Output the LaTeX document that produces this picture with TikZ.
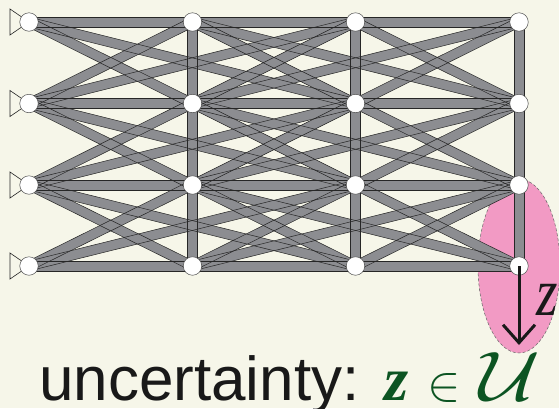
\RequirePackage{fix-cm}
\documentclass[tikz,border=0pt]{standalone}
\usepackage{fontspec}
\usepackage{graphicx}
\usepackage{xcolor}
\usepackage{tikz}
\usetikzlibrary{arrows.meta, positioning, calc, shapes.geometric}

\newfontfamily\captionfont{Liberation Sans}
\newfontfamily\timesfont{Liberation Serif}

\definecolor{bgcream}{RGB}{246,246,233}
\definecolor{bargray}{RGB}{140,141,145}
\definecolor{zonepink}{RGB}{242,154,196}
\definecolor{ugreen}{RGB}{12,84,34}

\pgfdeclarelayer{zonelayer}
\pgfdeclarelayer{barlayer}
\pgfsetlayers{zonelayer,barlayer,main}

% one bar: body first, edges in a second pass
\newcommand{\barbody}[2]{\draw[barbody] (#1.center) -- (#2.center);}
\newcommand{\baredge}[2]{\draw[baredge] ($(#1.center)!4.8pt!90:(#2.center)$) -- ($(#2.center)!4.8pt!-90:(#1.center)$)
    ($(#1.center)!4.8pt!-90:(#2.center)$) -- ($(#2.center)!4.8pt!90:(#1.center)$);}

% all bars of the ground structure
\newcommand{\groundstructure}[1]{%
  \foreach \col [evaluate=\col as \nxt using int(\col+1)] in {1,2,3} {
    \foreach \row in {1,...,4} {#1{n-\col-\row}{n-\nxt-\row}}
    \foreach \row [evaluate=\row as \low using int(\row+1)] in {1,2,3} {
      #1{n-\col-\row}{n-\nxt-\low}
      #1{n-\col-\low}{n-\nxt-\row}
    }
  }
  \foreach \col [evaluate=\col as \far using int(\col+2)] in {1,2} {
    \foreach \row [evaluate=\row as \low using int(\row+1)] in {1,2,3} {
      #1{n-\col-\row}{n-\far-\low}
      #1{n-\col-\low}{n-\far-\row}
    }
  }
  \foreach \col in {2,3,4} {
    \foreach \row [evaluate=\row as \low using int(\row+1)] in {1,2,3} {#1{n-\col-\row}{n-\col-\low}}
  }
}

\begin{document}
\begin{tikzpicture}[
    x=1pt, y=-1pt,
    joint/.style={circle, draw=black!70, fill=white, line width=0.5pt, inner sep=0pt, minimum size=18.5pt},
    barbody/.style={line width=9.6pt, bargray},
    baredge/.style={line width=0.5pt, black!85},
    support/.style={draw=black!85, line width=0.6pt},
    zone/.style={ellipse, draw=black!60, densely dashed, line width=0.5pt, fill=zonepink, minimum width=82pt, minimum height=174pt, inner sep=0pt},
    loadarrow/.style={-{Straight Barb[length=18pt, width=32pt]}, line width=3pt, black!90},
    zlabel/.style={font=\timesfont\itshape\fontsize{68}{72}\selectfont, inner sep=0pt, black!90},
    caption/.style={font=\captionfont\fontsize{62}{66}\selectfont, inner sep=0pt, black!90},
]
\useasboundingbox (0,0) rectangle (559,408);

% Joints
\foreach \col/\x in {1/29,2/192.5,3/355.5,4/519}
  \foreach \row/\y in {1/22,2/103.5,3/185,4/266}
    \node[joint] (n-\col-\row) at (\x,\y) {};

% Background and uncertainty set
\begin{pgfonlayer}{zonelayer}
\fill[bgcream] (0,0) rectangle (559,408);
\node[zone] (zone) at (n-4-4) {};
\end{pgfonlayer}

% Bars and supports
\begin{pgfonlayer}{barlayer}
\groundstructure{\barbody}
\groundstructure{\baredge}
\foreach \row in {1,...,4}
  \draw[support] (n-1-\row.center) -- ++(-19,-13) -- ++(0,26) -- cycle;
\end{pgfonlayer}

% Load
\coordinate[below=79pt of n-4-4.center] (load);
\draw[loadarrow] (n-4-4.center) -- (load);
\node[zlabel, anchor=base west] (zlab) at (536,315) {\scalebox{0.81}[1]{z}};

% Caption
\node[caption, anchor=base west] (caption) at (39,400) {uncertainty:\hspace{0.4em}\textcolor{ugreen}{\timesfont\bfseries\itshape z}\hspace{0.31em}\textcolor{ugreen}{\fontsize{50}{54}\selectfont$\in$}\hspace{0.3em}\textcolor{ugreen}{\scalebox{1.2}[1]{\fontsize{70}{74}\selectfont$\mathcal{U}$}}};

\end{tikzpicture}
\end{document}
